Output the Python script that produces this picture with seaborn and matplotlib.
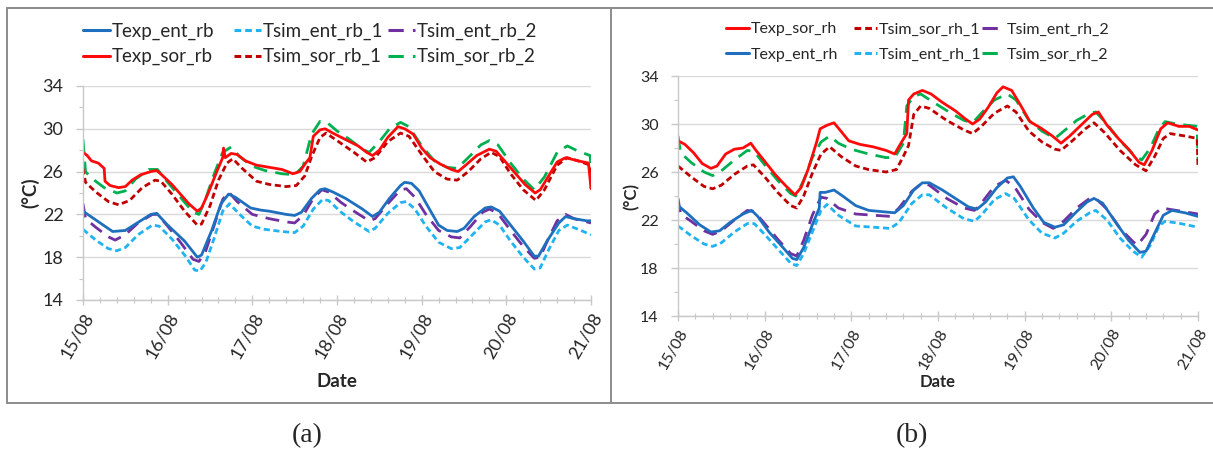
import numpy as np
import pandas as pd
import matplotlib
matplotlib.use("Agg")
import matplotlib.pyplot as plt
from matplotlib.lines import Line2D
from matplotlib.ticker import MultipleLocator
import seaborn as sns

# ---------------- DATA ----------------
date_labels = ["15/08", "16/08", "17/08", "18/08", "19/08", "20/08", "21/08"]
y_ticks = [14, 18, 22, 26, 30, 34]

# Panel (a)  (time in days from 15/08 00:00, temperature in °C)
a_texp_ent_t = [0, 0.35, 0.5, 0.8, 0.87, 1.0, 1.2, 1.35, 1.4, 1.52, 1.63, 1.72, 1.8, 1.98, 2.1, 2.2, 2.4, 2.5, 2.58, 2.7, 2.8, 2.86, 2.95, 3.1, 3.3, 3.42, 3.5, 3.62, 3.75, 3.8, 3.88, 3.97, 4.07, 4.2, 4.3, 4.42, 4.5, 4.62, 4.75, 4.82, 4.92, 5.05, 5.2, 5.33, 5.38, 5.48, 5.62, 5.7, 5.8, 5.95, 6.0]
a_texp_ent_v = [22.3, 20.4, 20.5, 22.0, 22.1, 21.0, 19.5, 18.0, 18.2, 20.5, 23.0, 23.9, 23.6, 22.6, 22.4, 22.3, 22.0, 21.9, 22.2, 23.5, 24.3, 24.4, 24.1, 23.5, 22.5, 21.8, 22.2, 23.5, 24.7, 25.0, 24.9, 24.2, 22.8, 21.0, 20.5, 20.4, 20.7, 21.8, 22.6, 22.7, 22.3, 21.0, 19.5, 18.1, 18.1, 19.5, 21.2, 21.8, 21.6, 21.4, 21.4]

a_texp_sor_t = [0, 0.05, 0.1, 0.18, 0.25, 0.26, 0.32, 0.42, 0.5, 0.58, 0.68, 0.8, 0.87, 0.93, 1.05, 1.15, 1.25, 1.35, 1.4, 1.48, 1.58, 1.65, 1.66, 1.68, 1.75, 1.82, 1.92, 2.05, 2.2, 2.35, 2.48, 2.56, 2.63, 2.68, 2.72, 2.8, 2.86, 2.95, 3.1, 3.25, 3.35, 3.42, 3.5, 3.6, 3.72, 3.8, 3.9, 4.0, 4.1, 4.22, 4.35, 4.43, 4.52, 4.65, 4.8, 4.88, 4.98, 5.1, 5.22, 5.34, 5.4, 5.5, 5.6, 5.7, 5.85, 5.97, 6.0]
a_texp_sor_v = [27.8, 27.5, 27.0, 26.8, 26.3, 25.1, 24.7, 24.5, 24.6, 25.2, 25.7, 26.0, 26.1, 25.7, 24.8, 23.9, 23.0, 22.3, 22.6, 24.0, 26.0, 27.3, 28.2, 27.3, 27.7, 27.6, 27.0, 26.6, 26.4, 26.2, 25.8, 26.0, 26.8, 27.3, 29.3, 29.9, 30.0, 29.6, 29.0, 28.4, 27.8, 27.5, 28.0, 29.2, 30.2, 30.0, 29.5, 28.2, 27.3, 26.7, 26.2, 26.0, 26.6, 27.5, 28.1, 27.9, 27.0, 25.9, 24.8, 24.0, 24.3, 25.6, 26.9, 27.3, 27.0, 26.8, 24.4]

a_sim_ent1_t = [0, 0.15, 0.3, 0.4, 0.5, 0.65, 0.82, 0.9, 1.05, 1.2, 1.32, 1.38, 1.45, 1.55, 1.65, 1.73, 1.85, 2.0, 2.15, 2.35, 2.5, 2.6, 2.72, 2.83, 2.9, 3.05, 3.2, 3.38, 3.45, 3.6, 3.75, 3.82, 3.92, 4.05, 4.2, 4.35, 4.45, 4.6, 4.75, 4.82, 4.92, 5.05, 5.2, 5.33, 5.4, 5.5, 5.62, 5.72, 5.85, 6.0]
a_sim_ent1_v = [20.6, 19.6, 18.8, 18.6, 18.9, 20.1, 21.0, 20.9, 19.7, 18.2, 16.8, 16.7, 17.5, 19.8, 22.3, 23.0, 22.0, 20.9, 20.6, 20.4, 20.3, 20.9, 22.5, 23.4, 23.3, 22.2, 21.3, 20.4, 20.7, 22.1, 23.1, 23.2, 22.5, 20.9, 19.4, 18.8, 18.9, 20.1, 21.3, 21.5, 21.0, 19.5, 18.0, 16.9, 17.0, 18.7, 20.5, 21.0, 20.6, 20.1]

a_sim_sor1_t = [0, 0.03, 0.15, 0.3, 0.42, 0.55, 0.7, 0.85, 0.92, 1.05, 1.2, 1.35, 1.4, 1.5, 1.6, 1.7, 1.77, 1.88, 2.05, 2.2, 2.4, 2.52, 2.62, 2.7, 2.8, 2.87, 3.0, 3.2, 3.35, 3.45, 3.6, 3.75, 3.85, 4.0, 4.15, 4.3, 4.42, 4.55, 4.7, 4.82, 4.92, 5.05, 5.2, 5.35, 5.45, 5.6, 5.72, 5.85, 5.99, 6.0]
a_sim_sor1_v = [26.3, 25.0, 24.1, 23.2, 22.9, 23.3, 24.5, 25.2, 25.1, 23.9, 22.3, 21.0, 21.1, 22.8, 25.2, 26.8, 27.2, 26.3, 25.1, 24.8, 24.6, 24.7, 25.6, 27.4, 29.2, 29.6, 28.9, 27.8, 26.9, 27.3, 28.8, 29.6, 29.3, 27.6, 26.0, 25.3, 25.2, 26.0, 27.2, 27.8, 27.4, 25.8, 24.3, 23.3, 24.3, 26.6, 27.3, 27.0, 26.6, 24.5]

a_sim_ent2_t = [0, 0.03, 0.15, 0.3, 0.38, 0.5, 0.65, 0.82, 0.88, 1.0, 1.15, 1.3, 1.37, 1.45, 1.55, 1.65, 1.72, 1.82, 2.0, 2.2, 2.4, 2.5, 2.6, 2.72, 2.82, 2.9, 3.05, 3.2, 3.38, 3.45, 3.6, 3.75, 3.82, 3.92, 4.05, 4.2, 4.35, 4.45, 4.58, 4.72, 4.8, 4.9, 5.05, 5.2, 5.33, 5.4, 5.5, 5.6, 5.7, 5.8, 6.0]
a_sim_ent2_v = [23.0, 21.6, 20.8, 19.9, 19.6, 20.1, 21.2, 22.0, 22.0, 20.9, 19.4, 17.8, 17.6, 18.6, 21.0, 23.4, 24.1, 23.2, 22.0, 21.6, 21.3, 21.2, 21.9, 23.5, 24.3, 24.1, 23.1, 22.3, 21.4, 21.6, 23.0, 24.3, 24.4, 23.6, 22.0, 20.5, 19.9, 19.8, 20.9, 22.2, 22.5, 22.1, 20.5, 19.0, 17.9, 18.0, 19.8, 21.4, 22.0, 21.6, 21.2]

a_sim_sor2_t = [0, 0.03, 0.1, 0.25, 0.4, 0.5, 0.62, 0.78, 0.88, 1.0, 1.15, 1.3, 1.37, 1.45, 1.55, 1.65, 1.75, 1.85, 2.0, 2.15, 2.35, 2.5, 2.6, 2.7, 2.8, 2.88, 3.0, 3.15, 3.3, 3.38, 3.5, 3.62, 3.75, 3.85, 4.0, 4.15, 4.3, 4.42, 4.55, 4.7, 4.8, 4.9, 5.05, 5.2, 5.33, 5.45, 5.6, 5.72, 5.85, 5.99, 6.0]
a_sim_sor2_v = [29.0, 26.0, 25.4, 24.5, 24.0, 24.2, 25.3, 26.2, 26.2, 25.0, 23.6, 22.2, 22.0, 23.5, 25.8, 27.8, 28.3, 27.4, 26.5, 26.1, 25.8, 25.7, 26.5, 29.5, 30.7, 30.6, 29.8, 29.0, 28.1, 27.8, 28.8, 30.0, 30.6, 30.2, 28.4, 27.0, 26.4, 26.3, 27.3, 28.5, 28.9, 28.5, 26.8, 25.3, 24.3, 25.5, 27.8, 28.4, 27.9, 27.5, 26.4]

# Panel (b)
b_texp_sor_t = [0, 0.08, 0.18, 0.28, 0.38, 0.45, 0.55, 0.65, 0.75, 0.84, 0.9, 1.0, 1.12, 1.25, 1.35, 1.42, 1.5, 1.6, 1.64, 1.72, 1.8, 1.88, 1.97, 2.1, 2.25, 2.4, 2.5, 2.58, 2.64, 2.66, 2.72, 2.82, 2.92, 3.05, 3.2, 3.32, 3.4, 3.48, 3.58, 3.68, 3.75, 3.85, 3.95, 4.06, 4.2, 4.32, 4.42, 4.52, 4.65, 4.78, 4.85, 4.95, 5.08, 5.2, 5.32, 5.38, 5.47, 5.57, 5.65, 5.78, 5.9, 6.0]
b_texp_sor_v = [28.6, 28.3, 27.6, 26.7, 26.3, 26.5, 27.5, 27.9, 28.0, 28.4, 27.8, 26.9, 25.8, 24.8, 24.1, 24.7, 26.2, 28.5, 29.6, 29.9, 30.1, 29.4, 28.6, 28.3, 28.1, 27.8, 27.5, 28.5, 29.2, 32.0, 32.5, 32.8, 32.5, 31.8, 31.1, 30.4, 30.0, 30.4, 31.4, 32.6, 33.1, 32.8, 31.6, 30.2, 29.6, 29.0, 28.4, 29.0, 29.9, 30.8, 31.0, 29.9, 28.8, 27.9, 26.8, 26.6, 27.8, 29.6, 30.1, 29.8, 29.8, 29.5]

b_texp_ent_t = [0, 0.1, 0.25, 0.38, 0.48, 0.6, 0.75, 0.85, 0.92, 1.05, 1.2, 1.32, 1.37, 1.45, 1.55, 1.63, 1.64, 1.7, 1.8, 1.9, 2.05, 2.2, 2.35, 2.5, 2.6, 2.72, 2.82, 2.9, 3.05, 3.2, 3.35, 3.45, 3.55, 3.68, 3.8, 3.87, 3.95, 4.1, 4.22, 4.35, 4.45, 4.6, 4.72, 4.8, 4.9, 5.05, 5.2, 5.33, 5.4, 5.5, 5.6, 5.7, 5.85, 6.0]
b_texp_ent_v = [23.2, 22.6, 21.6, 21.0, 21.1, 21.8, 22.5, 22.8, 22.3, 21.0, 19.8, 18.8, 18.7, 19.7, 21.6, 23.0, 24.3, 24.3, 24.5, 24.0, 23.2, 22.8, 22.7, 22.6, 23.2, 24.5, 25.1, 25.1, 24.5, 23.8, 23.1, 22.9, 23.5, 24.7, 25.5, 25.6, 24.8, 23.0, 21.8, 21.4, 21.6, 22.7, 23.5, 23.8, 23.4, 21.8, 20.3, 19.3, 19.4, 20.9, 22.4, 22.8, 22.6, 22.3]

b_sim_sor1_t = [0, 0.15, 0.3, 0.4, 0.5, 0.65, 0.8, 0.87, 1.0, 1.15, 1.3, 1.37, 1.45, 1.55, 1.65, 1.75, 1.88, 2.05, 2.2, 2.4, 2.52, 2.6, 2.66, 2.72, 2.8, 2.9, 3.1, 3.3, 3.4, 3.5, 3.65, 3.8, 3.9, 4.05, 4.2, 4.35, 4.42, 4.55, 4.7, 4.8, 4.92, 5.1, 5.28, 5.4, 5.5, 5.6, 5.68, 5.85, 5.99, 6.0]
b_sim_sor1_v = [26.5, 25.6, 24.8, 24.6, 24.9, 25.8, 26.5, 26.6, 25.6, 24.3, 23.2, 23.0, 24.0, 25.9, 27.5, 28.1, 27.3, 26.5, 26.2, 26.0, 26.2, 27.3, 28.2, 30.8, 31.5, 31.3, 30.3, 29.5, 29.2, 29.8, 30.9, 31.5, 31.0, 29.4, 28.5, 27.9, 27.8, 28.6, 29.6, 30.1, 29.3, 27.8, 26.6, 26.1, 27.3, 28.8, 29.2, 29.0, 28.8, 26.3]

b_sim_ent1_t = [0, 0.15, 0.3, 0.4, 0.5, 0.65, 0.8, 0.88, 1.0, 1.15, 1.3, 1.37, 1.45, 1.55, 1.65, 1.72, 1.85, 2.05, 2.25, 2.45, 2.55, 2.7, 2.82, 2.9, 3.1, 3.3, 3.42, 3.5, 3.65, 3.78, 3.88, 4.05, 4.2, 4.35, 4.45, 4.6, 4.75, 4.82, 4.95, 5.1, 5.25, 5.35, 5.45, 5.55, 5.62, 5.8, 6.0]
b_sim_ent1_v = [21.5, 20.7, 20.0, 19.8, 20.1, 21.0, 21.7, 21.7, 20.8, 19.6, 18.4, 18.2, 19.2, 21.0, 22.8, 23.3, 22.4, 21.5, 21.4, 21.3, 21.8, 23.4, 24.1, 24.1, 23.0, 22.1, 21.9, 22.4, 23.7, 24.2, 23.8, 22.0, 20.9, 20.5, 20.9, 21.9, 22.6, 22.8, 22.0, 20.5, 19.4, 18.9, 19.9, 21.5, 21.9, 21.7, 21.4]

b_sim_ent2_t = [0, 0.03, 0.15, 0.3, 0.4, 0.5, 0.65, 0.8, 0.88, 1.0, 1.15, 1.3, 1.37, 1.45, 1.55, 1.65, 1.72, 1.85, 2.05, 2.25, 2.45, 2.55, 2.7, 2.82, 2.9, 3.1, 3.3, 3.42, 3.5, 3.65, 3.78, 3.88, 4.05, 4.2, 4.33, 4.45, 4.6, 4.75, 4.82, 4.95, 5.1, 5.25, 5.3, 5.4, 5.5, 5.58, 5.75, 6.0]
b_sim_ent2_v = [23.8, 22.5, 21.9, 21.1, 20.8, 21.1, 22.0, 22.8, 22.7, 21.7, 20.4, 19.2, 19.0, 20.3, 22.4, 23.9, 23.8, 23.0, 22.5, 22.4, 22.3, 23.0, 24.4, 25.1, 24.9, 23.8, 23.0, 22.8, 23.4, 24.8, 25.3, 24.8, 22.9, 21.8, 21.3, 21.9, 23.0, 23.8, 23.8, 22.9, 21.3, 20.2, 19.9, 20.8, 22.5, 23.0, 22.8, 22.5]

b_sim_sor2_t = [0, 0.03, 0.15, 0.3, 0.4, 0.5, 0.65, 0.8, 0.88, 1.0, 1.15, 1.3, 1.36, 1.45, 1.55, 1.65, 1.75, 1.85, 2.0, 2.2, 2.4, 2.5, 2.6, 2.64, 2.72, 2.8, 2.95, 3.15, 3.3, 3.4, 3.5, 3.65, 3.8, 3.9, 4.05, 4.2, 4.35, 4.45, 4.6, 4.75, 4.82, 4.95, 5.1, 5.25, 5.35, 5.45, 5.55, 5.62, 5.75, 5.99, 6.0]
b_sim_sor2_v = [29.0, 27.6, 26.8, 26.0, 25.7, 26.1, 27.0, 27.8, 27.7, 26.6, 25.3, 24.2, 24.0, 25.3, 27.2, 28.5, 29.0, 28.4, 27.9, 27.5, 27.2, 27.2, 28.4, 31.5, 32.3, 32.5, 31.8, 30.9, 30.3, 30.1, 30.9, 32.0, 32.5, 32.0, 30.3, 29.4, 28.8, 29.4, 30.3, 30.9, 31.0, 30.0, 28.6, 27.5, 27.0, 28.0, 29.6, 30.2, 30.0, 29.8, 27.0]

# ---------------- STYLE ----------------
sns.set_theme(style="white")
plt.rcParams["font.family"] = ["Lato", "DejaVu Sans"]

C_BLUE = "#1f6fbf"
C_LBLUE = "#1fb4f0"
C_PURPLE = "#7030a0"
C_RED = "#ff0a0a"
C_DRED = "#c00000"
C_GREEN = "#00b050"
SOLID = "-"
SHORT = (0, (2.2, 1.3))
LONG = (0, (5, 3))

fig = plt.figure(figsize=(12.13, 4.51), dpi=100)
W, H = 1213, 451

def fx(px):
    return px / W

def fy(py):
    return 1 - py / H

# outer frame and divider
for xs, ys in [([7, 1213], [8, 8]), ([7, 1213], [403, 403]), ([7, 7], [8, 403]), ([611, 611], [8, 403])]:
    fig.add_artist(Line2D([fx(x) for x in xs], [fy(y) for y in ys], color="#8c8c8c", lw=1.4))

ax_a = fig.add_axes([fx(83), fy(300), fx(591) - fx(83), fy(86) - fy(300)])
ax_b = fig.add_axes([fx(678), fy(316), fx(1198) - fx(678), fy(76) - fy(316)])

series_a = [
    ("Texp_ent_rb", a_texp_ent_t, a_texp_ent_v, C_BLUE, SOLID),
    ("Texp_sor_rb", a_texp_sor_t, a_texp_sor_v, C_RED, SOLID),
    ("Tsim_ent_rb_1", a_sim_ent1_t, a_sim_ent1_v, C_LBLUE, SHORT),
    ("Tsim_sor_rb_1", a_sim_sor1_t, a_sim_sor1_v, C_DRED, SHORT),
    ("Tsim_ent_rb_2", a_sim_ent2_t, a_sim_ent2_v, C_PURPLE, LONG),
    ("Tsim_sor_rb_2", a_sim_sor2_t, a_sim_sor2_v, C_GREEN, LONG),
]
series_b = [
    ("Texp_sor_rh", b_texp_sor_t, b_texp_sor_v, C_RED, SOLID),
    ("Texp_ent_rh", b_texp_ent_t, b_texp_ent_v, C_BLUE, SOLID),
    ("Tsim_sor_rh_1", b_sim_sor1_t, b_sim_sor1_v, C_DRED, SHORT),
    ("Tsim_ent_rh_1", b_sim_ent1_t, b_sim_ent1_v, C_LBLUE, SHORT),
    ("Tsim_ent_rh_2", b_sim_ent2_t, b_sim_ent2_v, C_PURPLE, LONG),
    ("Tsim_sor_rh_2", b_sim_sor2_t, b_sim_sor2_v, C_GREEN, LONG),
]

draw_order_a = [5, 3, 1, 4, 2, 0]
draw_order_b = [5, 2, 0, 4, 3, 1]

def draw(ax, series, order, fs_tick, fs_label, fs_leg, col_x, leg_y, row_gap,
         ylab_x, xlab_y):
    for i in order:
        name, t, v, c, ls = series[i]
        df = pd.DataFrame({"t": t, "v": v})
        sns.lineplot(data=df, x="t", y="v", ax=ax, color=c, lw=2.0,
                     linestyle=ls, estimator=None, sort=False, legend=False)
    ax.set_xlim(0, 6)
    ax.set_ylim(14, 34)
    ax.set_yticks(y_ticks)
    ax.yaxis.set_minor_locator(MultipleLocator(2))
    ax.set_xticks(range(7))
    ax.set_xticklabels(date_labels, rotation=60, ha="right", rotation_mode="anchor")
    ax.xaxis.set_minor_locator(MultipleLocator(0.2))
    ax.grid(axis="y", color="#d9d9d9", lw=1.0)
    ax.set_axisbelow(True)
    for s in ["top", "right"]:
        ax.spines[s].set_visible(False)
    for s in ["left", "bottom"]:
        ax.spines[s].set_color("#c8c8c8")
        ax.spines[s].set_linewidth(1.0)
    ax.tick_params(axis="x", which="major", direction="inout", length=7, width=1, color="#c8c8c8",
                   labelsize=fs_tick, pad=4, bottom=True)
    ax.tick_params(axis="x", which="minor", direction="inout", length=4, width=0.8, color="#c8c8c8", bottom=True)
    ax.tick_params(axis="y", which="major", direction="out", length=5, width=1, color="#c8c8c8",
                   labelsize=fs_tick, pad=9, left=True)
    ax.tick_params(axis="y", which="minor", direction="out", length=3, width=0.8, color="#c8c8c8", left=True)
    ax.set_xlabel("Date", fontsize=fs_label, fontweight="bold")
    ax.xaxis.set_label_coords(0.5, xlab_y)
    ax.set_ylabel("(°C)", fontsize=fs_label, fontweight="bold")
    ax.yaxis.set_label_coords(ylab_x, 0.5)
    # legend: three columns, each a separate single-column legend (fixed column positions)
    font_px = fs_leg * 100 / 72
    spacing = (row_gap - font_px) / font_px
    for k in range(3):
        cols = series[2 * k: 2 * k + 2]
        hs = [Line2D([], [], color=c, lw=2.2, linestyle=ls) for _, _, _, c, ls in cols]
        fig.legend(hs, [n for n, *_ in cols], loc="center left",
                   bbox_to_anchor=(fx(col_x[k]), fy(leg_y)), ncol=1, frameon=False,
                   fontsize=fs_leg, handlelength=1.45, handletextpad=0.1,
                   labelspacing=spacing, borderpad=0, borderaxespad=0)

draw(ax_a, series_a, draw_order_a, 13, 13.5, 13.5, [83, 234, 388], 44, 27, -0.085, -0.341)
draw(ax_b, series_b, draw_order_b, 11.5, 12, 11.5, [726, 854, 982], 42, 27, -0.073, -0.242)

fig.text(fx(307), fy(436), "(a)", family="Liberation Serif", fontsize=20, ha="center", va="center")
fig.text(fx(912), fy(436), "(b)", family="Liberation Serif", fontsize=20, ha="center", va="center")

fig.savefig("out.png", dpi=100)
